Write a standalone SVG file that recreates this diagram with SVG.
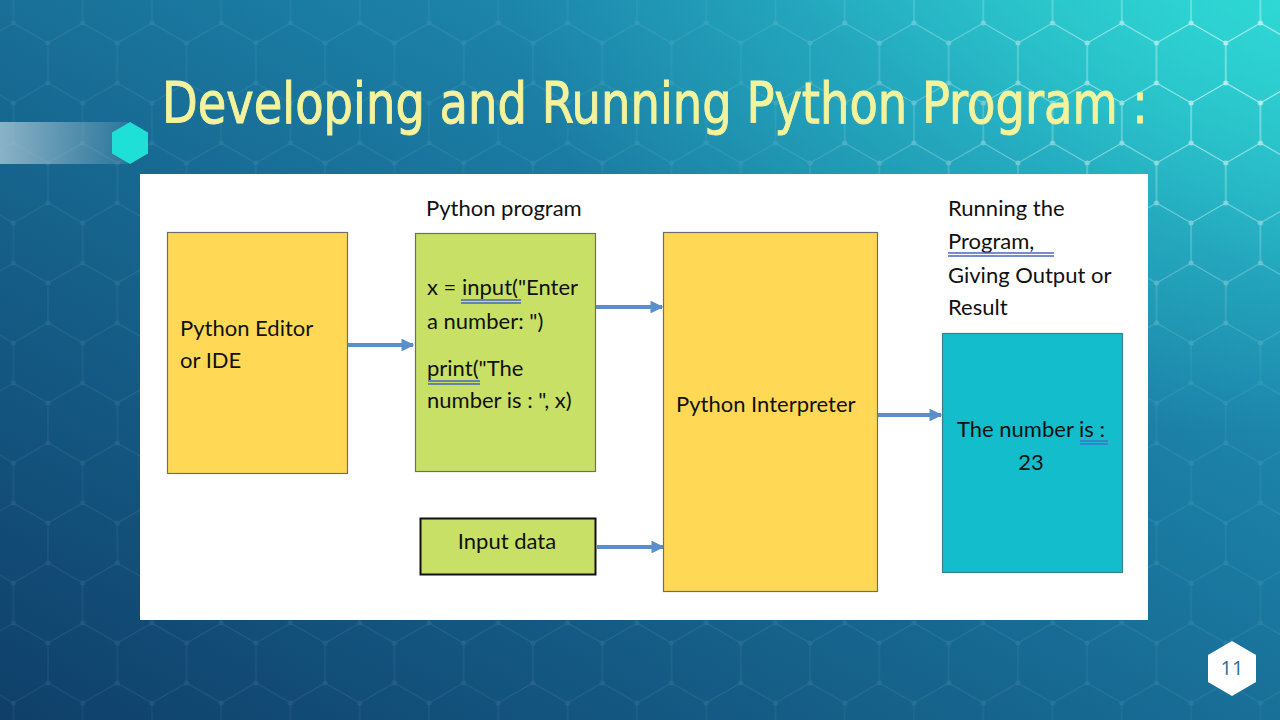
<svg xmlns="http://www.w3.org/2000/svg" width="1280" height="720" viewBox="0 0 1280 720">
<defs>
  <linearGradient id="bg" x1="0" y1="1" x2="1" y2="0">
    <stop offset="0" stop-color="#0f3f69"/>
    <stop offset="0.45" stop-color="#176a93"/>
    <stop offset="0.8" stop-color="#1f90b4"/>
    <stop offset="1" stop-color="#2cc6cf"/>
  </linearGradient>
  <radialGradient id="glow" cx="1" cy="0" r="0.6">
    <stop offset="0" stop-color="#2fe0d6" stop-opacity="0.7"/>
    <stop offset="1" stop-color="#2fe0d6" stop-opacity="0"/>
  </radialGradient>
  <linearGradient id="bar" x1="0" y1="0" x2="1" y2="0">
    <stop offset="0" stop-color="#9fc0d0" stop-opacity="0.85"/>
    <stop offset="1" stop-color="#9fc0d0" stop-opacity="0.15"/>
  </linearGradient>
  <pattern id="hex" width="69.28" height="120" patternUnits="userSpaceOnUse" patternTransform="translate(48 3)">
    <path d="M34.64,20 L69.28,40 L69.28,80 L34.64,100 L0,80 L0,40 Z M34.64,0 L34.64,20 M34.64,100 L34.64,120" fill="none" stroke="#ffffff" stroke-width="1"/>
    <circle cx="34.64" cy="20" r="2.5" fill="#ffffff"/>
    <circle cx="34.64" cy="100" r="2.5" fill="#ffffff"/>
    <circle cx="0" cy="40" r="2.5" fill="#ffffff"/>
    <circle cx="0" cy="80" r="2.5" fill="#ffffff"/>
    <circle cx="69.28" cy="40" r="2.5" fill="#ffffff"/>
    <circle cx="69.28" cy="80" r="2.5" fill="#ffffff"/>
  </pattern>
  <radialGradient id="hexfade" cx="1" cy="0.1" r="0.42">
    <stop offset="0" stop-color="#fff" stop-opacity="1"/>
    <stop offset="1" stop-color="#fff" stop-opacity="0"/>
  </radialGradient>
  <mask id="hexmask">
    <rect width="1280" height="720" fill="url(#hexfade)"/>
  </mask>
  <marker id="arr" viewBox="0 0 10 10" refX="9" refY="5" markerWidth="3.2" markerHeight="3.2" orient="auto" markerUnits="strokeWidth">
    <path d="M0,0 L10,5 L0,10 Z" fill="#5b8fcb"/>
  </marker>
  <style>
    .t { font-family: Lato, "Open Sans", "Liberation Sans", sans-serif; font-size: 22px; fill: #111; }
    .box { stroke: #6d6d6d; stroke-width: 1.2; }
    .yellow { fill: #ffd955; }
    .lime { fill: #c8e066; }
    .teal { fill: #13bdcb; stroke: #3f7f8f; }
    .conn { stroke: #5b8fcb; stroke-width: 4; fill: none; marker-end: url(#arr); }
    .ul { stroke: #4466c4; stroke-width: 1.3; }
  </style>
</defs>

<!-- background -->
<rect width="1280" height="720" fill="url(#bg)"/>
<rect width="1280" height="720" fill="url(#glow)"/>
<rect width="1280" height="720" fill="url(#hex)" opacity="0.08"/>
<rect width="1280" height="720" fill="url(#hex)" opacity="0.7" mask="url(#hexmask)"/>

<!-- title decoration -->
<rect x="0" y="122" width="128" height="42" fill="url(#bar)"/>
<polygon points="130,122 148,132.5 148,153.5 130,164 112,153.5 112,132.5" fill="#1fe0d6"/>

<text x="162" y="123" font-family="'DejaVu Sans Condensed', 'DejaVu Sans', sans-serif" font-size="57" fill="#f4f39c" stroke="#f4f39c" stroke-width="0.9" textLength="986" lengthAdjust="spacingAndGlyphs">Developing and Running Python Program :</text>

<!-- white panel -->
<rect x="140" y="174" width="1008" height="446" fill="#ffffff"/>

<!-- connectors -->
<g id="connectors">
  <line class="conn" x1="348" y1="345" x2="413" y2="345"/>
  <line class="conn" x1="596" y1="307" x2="662" y2="307"/>
  <line class="conn" x1="597" y1="547" x2="663" y2="547"/>
  <line class="conn" x1="878" y1="415" x2="941" y2="415"/>
</g>

<g id="editor">
  <rect class="box yellow" x="167.5" y="232.5" width="180" height="241"/>
  <text class="t" x="180" y="336">Python Editor</text>
  <text class="t" x="180" y="368">or IDE</text>
</g>

<g id="program">
  <text class="t" x="426" y="216">Python program</text>
  <rect class="box lime" x="415.5" y="233.5" width="180" height="238"/>
  <text class="t" x="427" y="295">x = input("Enter</text>
  <text class="t" x="427" y="329">a number: ")</text>
  <text class="t" x="427" y="376">print("The</text>
  <text class="t" x="427" y="408">number is : ", x)</text>
  <line class="ul" x1="461" y1="300" x2="521" y2="300"/>
  <line class="ul" x1="461" y1="303" x2="521" y2="303"/>
  <line class="ul" x1="428" y1="381" x2="480" y2="381"/>
  <line class="ul" x1="428" y1="384" x2="480" y2="384"/>
</g>

<g id="input">
  <rect x="420.5" y="518.5" width="175" height="56" fill="#c8e066" stroke="#111" stroke-width="2"/>
  <text class="t" x="507" y="549" text-anchor="middle">Input data</text>
</g>

<g id="interpreter">
  <rect class="box yellow" x="663.5" y="232.5" width="214" height="359"/>
  <text class="t" x="676" y="412">Python Interpreter</text>
</g>

<g id="output">
  <text class="t" x="948" y="216">Running the</text>
  <text class="t" x="948" y="249">Program,</text>
  <text class="t" x="948" y="283">Giving Output or</text>
  <text class="t" x="948" y="315">Result</text>
  <line class="ul" x1="948" y1="253" x2="1054" y2="253"/>
  <line class="ul" x1="948" y1="256" x2="1054" y2="256"/>
  <rect class="box teal" x="942.5" y="333.5" width="180" height="239"/>
  <text class="t" x="1031" y="437" text-anchor="middle">The number is :</text>
  <text class="t" x="1031" y="470" text-anchor="middle">23</text>
  <line class="ul" x1="1080" y1="441" x2="1108" y2="441"/>
  <line class="ul" x1="1080" y1="444" x2="1108" y2="444"/>
</g>

<!-- page number -->
<g id="page">
  <polygon points="1232,641 1256,655 1256,682 1232,696 1208,682 1208,655" fill="#ffffff"/>
  <text x="1232" y="675" text-anchor="middle" font-family="'Open Sans', Lato, sans-serif" font-size="20" fill="#2a7090">11</text>
</g>
</svg>
